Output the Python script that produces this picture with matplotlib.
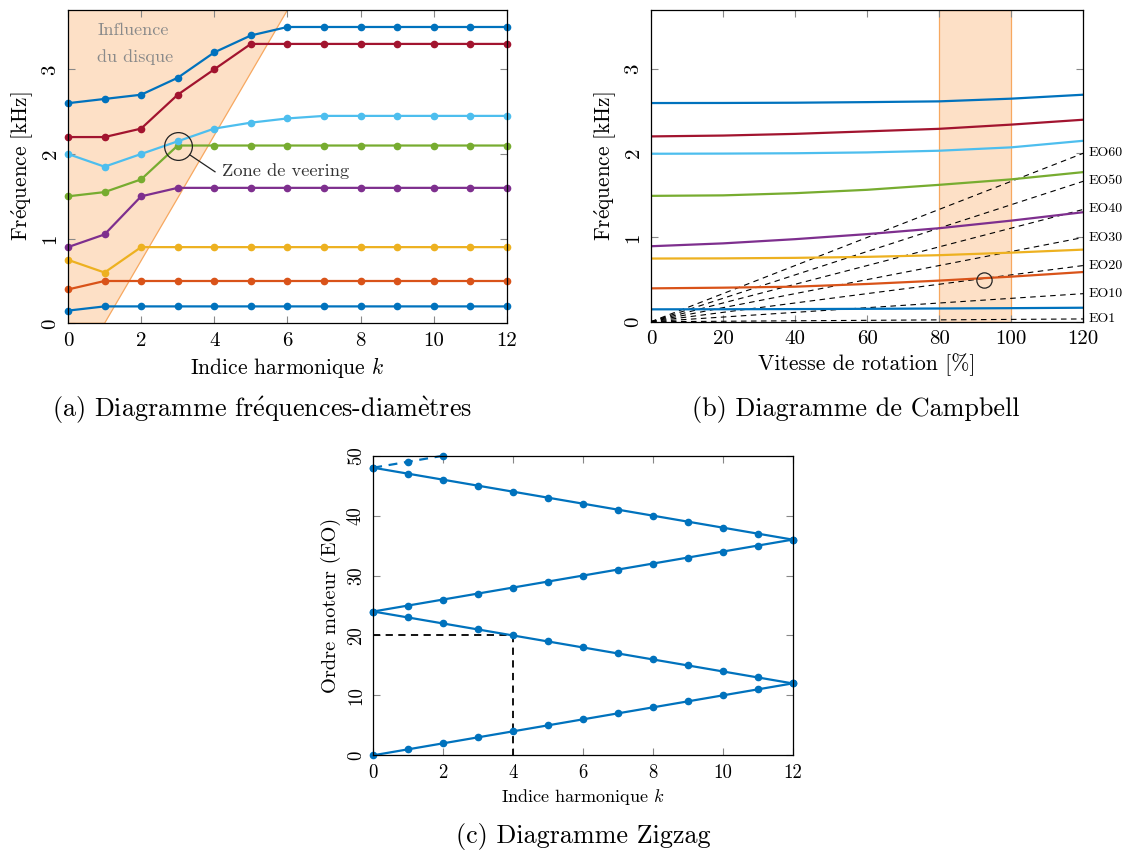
import numpy as np
import matplotlib
matplotlib.use('Agg')
import matplotlib.pyplot as plt

plt.rcParams['font.family'] = ['cmr10', 'DejaVu Serif']
plt.rcParams['mathtext.fontset'] = 'cm'
plt.rcParams['axes.unicode_minus'] = False

# couleurs type matlab
c_blue = '#0072BD'
c_orange = '#D95319'
c_yellow = '#EDB120'
c_purple = '#7E2F8E'
c_green = '#77AC30'
c_lblue = '#4DBEEE'
c_red = '#A2142F'
fill_col = '#FDE0C6'
edge_col = '#F7A860'

# accents via mathtext (cmr10 n'a pas é/è)
e_aigu = r'$\mathrm{\acute{e}}$'
e_grave = r'$\mathrm{\grave{e}}$'

# (a) diagramme frequences-diametres
k = list(range(13))
fd_mode1 = [0.15, 0.2, 0.2, 0.2, 0.2, 0.2, 0.2, 0.2, 0.2, 0.2, 0.2, 0.2, 0.2]
fd_mode2 = [0.4, 0.5, 0.5, 0.5, 0.5, 0.5, 0.5, 0.5, 0.5, 0.5, 0.5, 0.5, 0.5]
fd_mode3 = [0.75, 0.6, 0.9, 0.9, 0.9, 0.9, 0.9, 0.9, 0.9, 0.9, 0.9, 0.9, 0.9]
fd_mode4 = [0.9, 1.05, 1.5, 1.6, 1.6, 1.6, 1.6, 1.6, 1.6, 1.6, 1.6, 1.6, 1.6]
fd_mode5 = [1.5, 1.55, 1.7, 2.1, 2.1, 2.1, 2.1, 2.1, 2.1, 2.1, 2.1, 2.1, 2.1]
fd_mode6 = [2.0, 1.85, 2.0, 2.15, 2.3, 2.37, 2.42, 2.45, 2.45, 2.45, 2.45, 2.45, 2.45]
fd_mode7 = [2.2, 2.2, 2.3, 2.7, 3.0, 3.3, 3.3, 3.3, 3.3, 3.3, 3.3, 3.3, 3.3]
fd_mode8 = [2.6, 2.65, 2.7, 2.9, 3.2, 3.4, 3.5, 3.5, 3.5, 3.5, 3.5, 3.5, 3.5]
disque_x = [0, 0, 6, 1]
disque_y = [0, 3.7, 3.7, 0]

# (b) Campbell
vitesse = [0, 20, 40, 60, 80, 100, 120]
cb_mode1 = [0.147, 0.148, 0.150, 0.153, 0.157, 0.161, 0.166]
cb_mode2 = [0.396, 0.404, 0.416, 0.448, 0.488, 0.535, 0.59]
cb_mode3 = [0.75, 0.752, 0.758, 0.77, 0.79, 0.82, 0.856]
cb_mode4 = [0.896, 0.93, 0.98, 1.04, 1.11, 1.2, 1.30]
cb_mode5 = [1.494, 1.50, 1.526, 1.566, 1.625, 1.69, 1.776]
cb_mode6 = [1.994, 1.996, 2.0, 2.01, 2.03, 2.07, 2.148]
cb_mode7 = [2.2, 2.21, 2.23, 2.26, 2.29, 2.34, 2.398]
cb_mode8 = [2.596, 2.597, 2.60, 2.607, 2.616, 2.648, 2.695]
eo_noms = ['EO1', 'EO10', 'EO20', 'EO30', 'EO40', 'EO50', 'EO60']
eo_f120 = [0.033, 0.333, 0.667, 1.0, 1.333, 1.667, 2.0]

# (c) zigzag
zz_k = list(range(13))
zz_b1 = [0, 1, 2, 3, 4, 5, 6, 7, 8, 9, 10, 11, 12]
zz_b2 = [24, 23, 22, 21, 20, 19, 18, 17, 16, 15, 14, 13, 12]
zz_b3 = [24, 25, 26, 27, 28, 29, 30, 31, 32, 33, 34, 35, 36]
zz_b4 = [48, 47, 46, 45, 44, 43, 42, 41, 40, 39, 38, 37, 36]
zz_k5 = [0, 1, 2]
zz_b5 = [48, 49, 50]

fig = plt.figure(figsize=(11.27, 8.52), dpi=100)

def style(ax, ls=15):
    ax.tick_params(direction='in', top=True, right=True, length=5,
                   color='#888888', labelsize=ls, pad=6)
    for t in ax.get_yticklabels():
        t.set_rotation(90)
        t.set_va('center')
    for s in ax.spines.values():
        s.set_linewidth(0.9)

freq_label = 'Fr' + e_aigu + 'quence [kHz]'

# ---------- (a)
ax1 = fig.add_axes([0.0603, 0.6205, 0.3895, 0.3677])
ax1.fill(disque_x, disque_y, facecolor=fill_col, edgecolor=edge_col, lw=0.9, zorder=0)
modes_a = [fd_mode1, fd_mode2, fd_mode3, fd_mode4, fd_mode5, fd_mode6, fd_mode7, fd_mode8]
cols = [c_blue, c_orange, c_yellow, c_purple, c_green, c_lblue, c_red, c_blue]
for m, c in zip(modes_a, cols):
    ax1.plot(k, m, '-o', color=c, lw=1.6, ms=4.5, clip_on=False)
ax1.plot([3], [2.1], 'o', ms=20, mfc='none', mec='#222222', mew=0.9)
ax1.plot([3.33, 4.02], [1.99, 1.79], color='#222222', lw=0.9)
ax1.text(4.2, 1.8, 'Zone de veering', fontsize=13.3, va='center', color='#333333')
ax1.text(0.8, 3.46, 'Influence', fontsize=13, va='center', color='#8a8a8a')
ax1.text(0.8, 3.15, 'du disque', fontsize=13, va='center', color='#8a8a8a')
ax1.set_xlim(0, 12)
ax1.set_ylim(0, 3.7)
ax1.set_xticks([0, 2, 4, 6, 8, 10, 12])
ax1.set_yticks([0, 1, 2, 3])
ax1.set_xlabel(r'Indice harmonique $k$', fontsize=15.5)
ax1.set_ylabel(freq_label, fontsize=15.3, labelpad=4)
style(ax1)

# ---------- (b)
ax2 = fig.add_axes([0.5776, 0.6224, 0.3836, 0.3658])
ax2.axvspan(80, 100, facecolor=fill_col, edgecolor=edge_col, lw=0.9, zorder=0)
for nom, f in zip(eo_noms, eo_f120):
    ax2.plot([0, 120], [0, f], color='k', lw=0.8, dashes=(5, 4))
    ax2.text(121.5, f, nom, fontsize=10, va='center')
modes_b = [cb_mode1, cb_mode2, cb_mode3, cb_mode4, cb_mode5, cb_mode6, cb_mode7, cb_mode8]
for m, c in zip(modes_b, cols):
    ax2.plot(vitesse, m, '-', color=c, lw=1.6)
ax2.plot([92.5], [0.5], 'o', ms=11, mfc='none', mec='#222222', mew=0.9)
ax2.set_xlim(0, 120)
ax2.set_ylim(0, 3.7)
ax2.set_xticks([0, 20, 40, 60, 80, 100, 120])
ax2.set_yticks([0, 1, 2, 3])
ax2.set_xlabel('Vitesse de rotation [%]', fontsize=15.7)
ax2.set_ylabel(freq_label, fontsize=15.3, labelpad=4)
style(ax2)

# ---------- (c)
ax3 = fig.add_axes([0.3312, 0.1135, 0.3721, 0.3516])
ax3.plot([0, 4], [20, 20], color='k', lw=1.3, dashes=(4, 3))
ax3.plot([4, 4], [20, 0], color='k', lw=1.3, dashes=(4, 3))
for b in [zz_b1, zz_b2, zz_b3, zz_b4]:
    ax3.plot(zz_k, b, '-o', color=c_blue, lw=1.6, ms=4.5, clip_on=False)
ax3.plot(zz_k5, zz_b5, 'o', color=c_blue, ms=4.5, clip_on=False)
ax3.plot(zz_k5, zz_b5, color=c_blue, lw=1.6, dashes=(4, 3), clip_on=False)
ax3.set_xlim(0, 12)
ax3.set_ylim(0, 50)
ax3.set_xticks([0, 2, 4, 6, 8, 10, 12])
ax3.set_yticks([0, 10, 20, 30, 40, 50])
ax3.set_xlabel(r'Indice harmonique $k$', fontsize=13)
ax3.set_ylabel('Ordre moteur (EO)', fontsize=14.7, labelpad=4)
style(ax3, ls=13.5)

fig.text(262 / 1127, 1 - 410 / 852,
         '(a) Diagramme fr' + e_aigu + 'quences-diam' + e_grave + 'tres',
         fontsize=18.8, ha='center', va='center')
fig.text(856 / 1127, 1 - 410 / 852, '(b) Diagramme de Campbell',
         fontsize=18.8, ha='center', va='center')
fig.text(583 / 1127, 1 - 837 / 852, '(c) Diagramme Zigzag',
         fontsize=18.8, ha='center', va='center')

fig.savefig('out.png', dpi=100)
